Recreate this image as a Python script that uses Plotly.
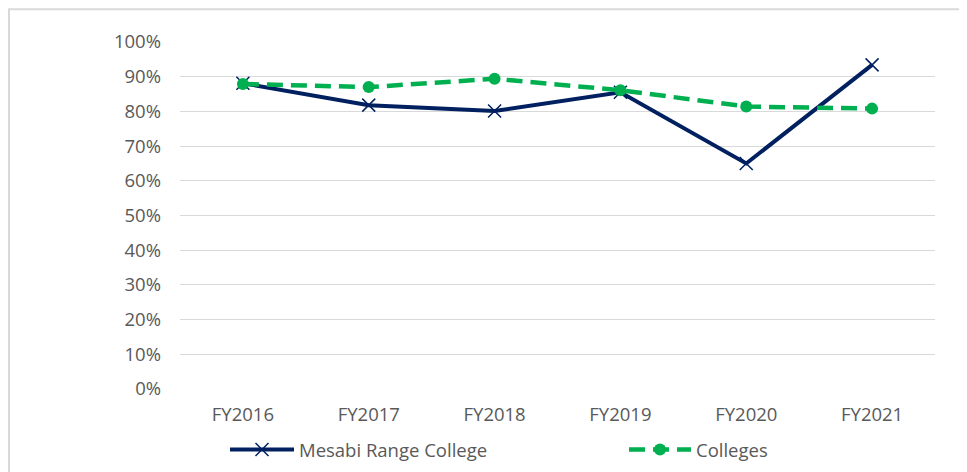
import plotly.graph_objects as go

categories = ["FY2016", "FY2017", "FY2018", "FY2019", "FY2020", "FY2021"]
mesabi = [0.881, 0.818, 0.801, 0.855, 0.650, 0.934]
colleges = [0.879, 0.870, 0.894, 0.861, 0.814, 0.808]
y_ticks = [i / 10 for i in range(11)]
y_tick_labels = [f"{i*10}%" for i in range(11)]

NAVY = "#002060"
GREEN = "#00B050"
TEXT = "#595959"
FS = 18.5

OFF = 8  # page body margin
L, T, W, H = 180 - OFF, 41.7 - OFF, 755, 347.3
leg_y = (T + H - (450 - OFF)) / H

fig = go.Figure()
fig.add_trace(go.Scatter(
    x=categories, y=mesabi, name="Mesabi Range College", mode="lines+markers",
    line=dict(color=NAVY, width=4),
    marker=dict(symbol="x-thin", size=13, line=dict(color=NAVY, width=1.5), color=NAVY),
    legend="legend",
))
fig.add_trace(go.Scatter(
    x=categories, y=colleges, name="Colleges", mode="lines+markers",
    line=dict(color=GREEN, width=4.5, dash="16px,8px"),
    marker=dict(symbol="circle", size=12, color=GREEN),
    legend="legend2",
))

fig.update_layout(
    width=967, height=472,
    margin=dict(l=L, r=967 - L - W, t=T, b=472 - T - H, autoexpand=False),
    paper_bgcolor="white", plot_bgcolor="white",
    font=dict(family="Open Sans, Calibri, sans-serif", size=FS, color=TEXT),
    showlegend=True,
    legend=dict(x=(225 - OFF - L) / W, y=leg_y, xanchor="left", yanchor="middle",
                itemwidth=64, font=dict(size=FS, color=TEXT), bgcolor="rgba(0,0,0,0)"),
    legend2=dict(x=(624 - OFF - L) / W, y=leg_y, xanchor="left", yanchor="middle",
                 itemwidth=62, font=dict(size=FS, color=TEXT), bgcolor="rgba(0,0,0,0)"),
    xaxis=dict(type="category", range=[-0.5, len(categories) - 0.5],
               showgrid=False, showline=False, zeroline=False, ticks="",
               ticklabelstandoff=12, tickfont=dict(size=FS, color=TEXT), automargin=False),
    yaxis=dict(range=[0, 1], tickvals=y_ticks, ticktext=y_tick_labels,
               showgrid=True, gridcolor="#D9D9D9", gridwidth=1.3, zeroline=False,
               showline=False, ticks="", ticklabelstandoff=18,
               tickfont=dict(size=FS, color=TEXT), automargin=False),
    shapes=[dict(type="rect", xref="paper", yref="paper",
                 x0=(1 - L) / W, x1=(990 - L) / W,
                 y0=(T + H - 490) / H, y1=(T + H - 1) / H,
                 line=dict(color="#D9D9D9", width=2), fillcolor="rgba(0,0,0,0)", layer="below")],
)

fig.write_html("out.html")
